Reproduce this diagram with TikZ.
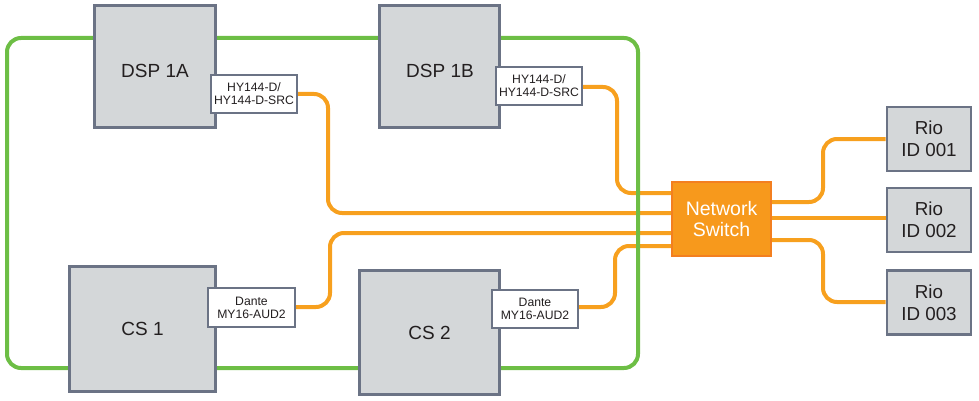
\documentclass[tikz,border=0pt]{standalone}
\usepackage{fontspec}
\setmainfont{Liberation Sans}
\definecolor{boxline}{HTML}{6B7385}
\definecolor{boxfill}{HTML}{D4D7D9}
\definecolor{txt}{HTML}{231F20}
\definecolor{grn}{HTML}{6DBE45}
\definecolor{orng}{HTML}{F7A01E}
\definecolor{swfill}{HTML}{F7991C}
\definecolor{swline}{HTML}{F37F20}
\pgfdeclarelayer{bg}
\pgfsetlayers{bg,main}
\begin{document}
\begin{tikzpicture}[x=1pt,y=-1pt,
  box/.style={draw=boxline, fill=boxfill, line width=2.6pt, inner sep=0pt, text=txt, align=center, font=\fontsize{19}{22}\selectfont},
  card/.style={draw=boxline, fill=white, line width=2.4pt, inner sep=0pt, minimum width=86pt, minimum height=38pt, align=center, text=txt, font=\fontsize{12.2}{12.8}\selectfont},
  rio/.style={box, minimum width=84pt, minimum height=64pt, font=\fontsize{18.8}{22}\selectfont},
  switchbox/.style={draw=swline, fill=swfill, line width=2.2pt, inner sep=0pt, minimum width=99pt, minimum height=74pt, align=center, text=white, font=\fontsize{19.5}{20.5}\selectfont},
  lbl/.style={text=txt, inner sep=0pt, font=\fontsize{19}{22}\selectfont},
  oline/.style={draw=orng, line width=4pt, rounded corners=14pt},
  gline/.style={draw=grn, line width=4pt, rounded corners=14pt}]
\useasboundingbox (0,0) rectangle (979,401);

% main units
\node[box, minimum width=121.5pt, minimum height=122.5pt] (dspa) at (155,66.5) {};
\node[lbl] (dspalbl) at (155,71) {DSP 1A};
\node[box, minimum width=120.5pt, minimum height=122.5pt] (dspb) at (439.5,66.5) {};
\node[lbl] (dspblbl) at (440,71) {DSP 1B};
\node[box, minimum width=146.5pt, minimum height=125.5pt] (cs1) at (142.5,329) {CS 1};
\node[box, minimum width=140.5pt, minimum height=124.5pt] (cs2) at (429.5,332.5) {CS 2};

% cards
\node[card] (hya) at (254,94) {HY144-D/\\HY144-D-SRC};
\node[card] (hyb) at (539,86) {HY144-D/\\HY144-D-SRC};
\node[card, minimum width=87pt, minimum height=39pt] (dan1) at (251.5,307.5) {Dante\\MY16-AUD2};
\node[card] (dan2) at (535,309) {Dante\\MY16-AUD2};

% switch and Rio
\node[switchbox] (sw) at (721.5,219) {Network\\Switch};
\node[rio] (rio1) at (929,139) {Rio\\ID 001};
\node[rio] (rio2) at (929,220) {Rio\\ID 002};
\node[rio] (rio3) at (929,302.5) {Rio\\ID 003};

% switch ports
\coordinate (swA) at (sw.west |- 0,213);
\coordinate (swB) at (sw.west |- 0,193);
\coordinate (sw1) at (sw.west |- 0,233);
\coordinate (sw2) at (sw.west |- 0,246);
\coordinate (swR1) at (sw.east |- 0,202);
\coordinate (swR2) at (sw.east |- 0,218);
\coordinate (swR3) at (sw.east |- 0,240);

% green loop corners
\coordinate (gTL) at (7,38);
\coordinate (gTR) at (638,38);
\coordinate (gBR) at (638,368);
\coordinate (gBL) at (7,368);

\begin{pgfonlayer}{bg}
  \draw[oline] (hya.east |- 0,94) -- (328,94) -- (328,213) -- (swA);
  \draw[oline] (hyb.east |- 0,87) -- (617,87) -- (617,193) -- (swB);
  \draw[oline] (dan1.east |- 0,307) -- (330,307) -- (330,233) -- (sw1);
  \draw[oline] (dan2.east |- 0,307) -- (615,307) -- (615,246) -- (sw2);
  \draw[oline] (swR1) -- (823,202) -- (823,139) -- (rio1.west |- 0,139);
  \draw[oline] (swR2) -- (rio2.west |- 0,218);
  \draw[oline] (swR3) -- (823,240) -- (823,302) -- (rio3.west |- 0,302);
  \draw[gline] (dspa.center |- gTL) -- (gTL) -- (gBL) -- (cs1.center |- gBL);
  \draw[gline] (cs1.center |- gBL) -- (gBR) -- (gTR) -- (dspa.center |- gTR);
\end{pgfonlayer}
\end{tikzpicture}
\end{document}
